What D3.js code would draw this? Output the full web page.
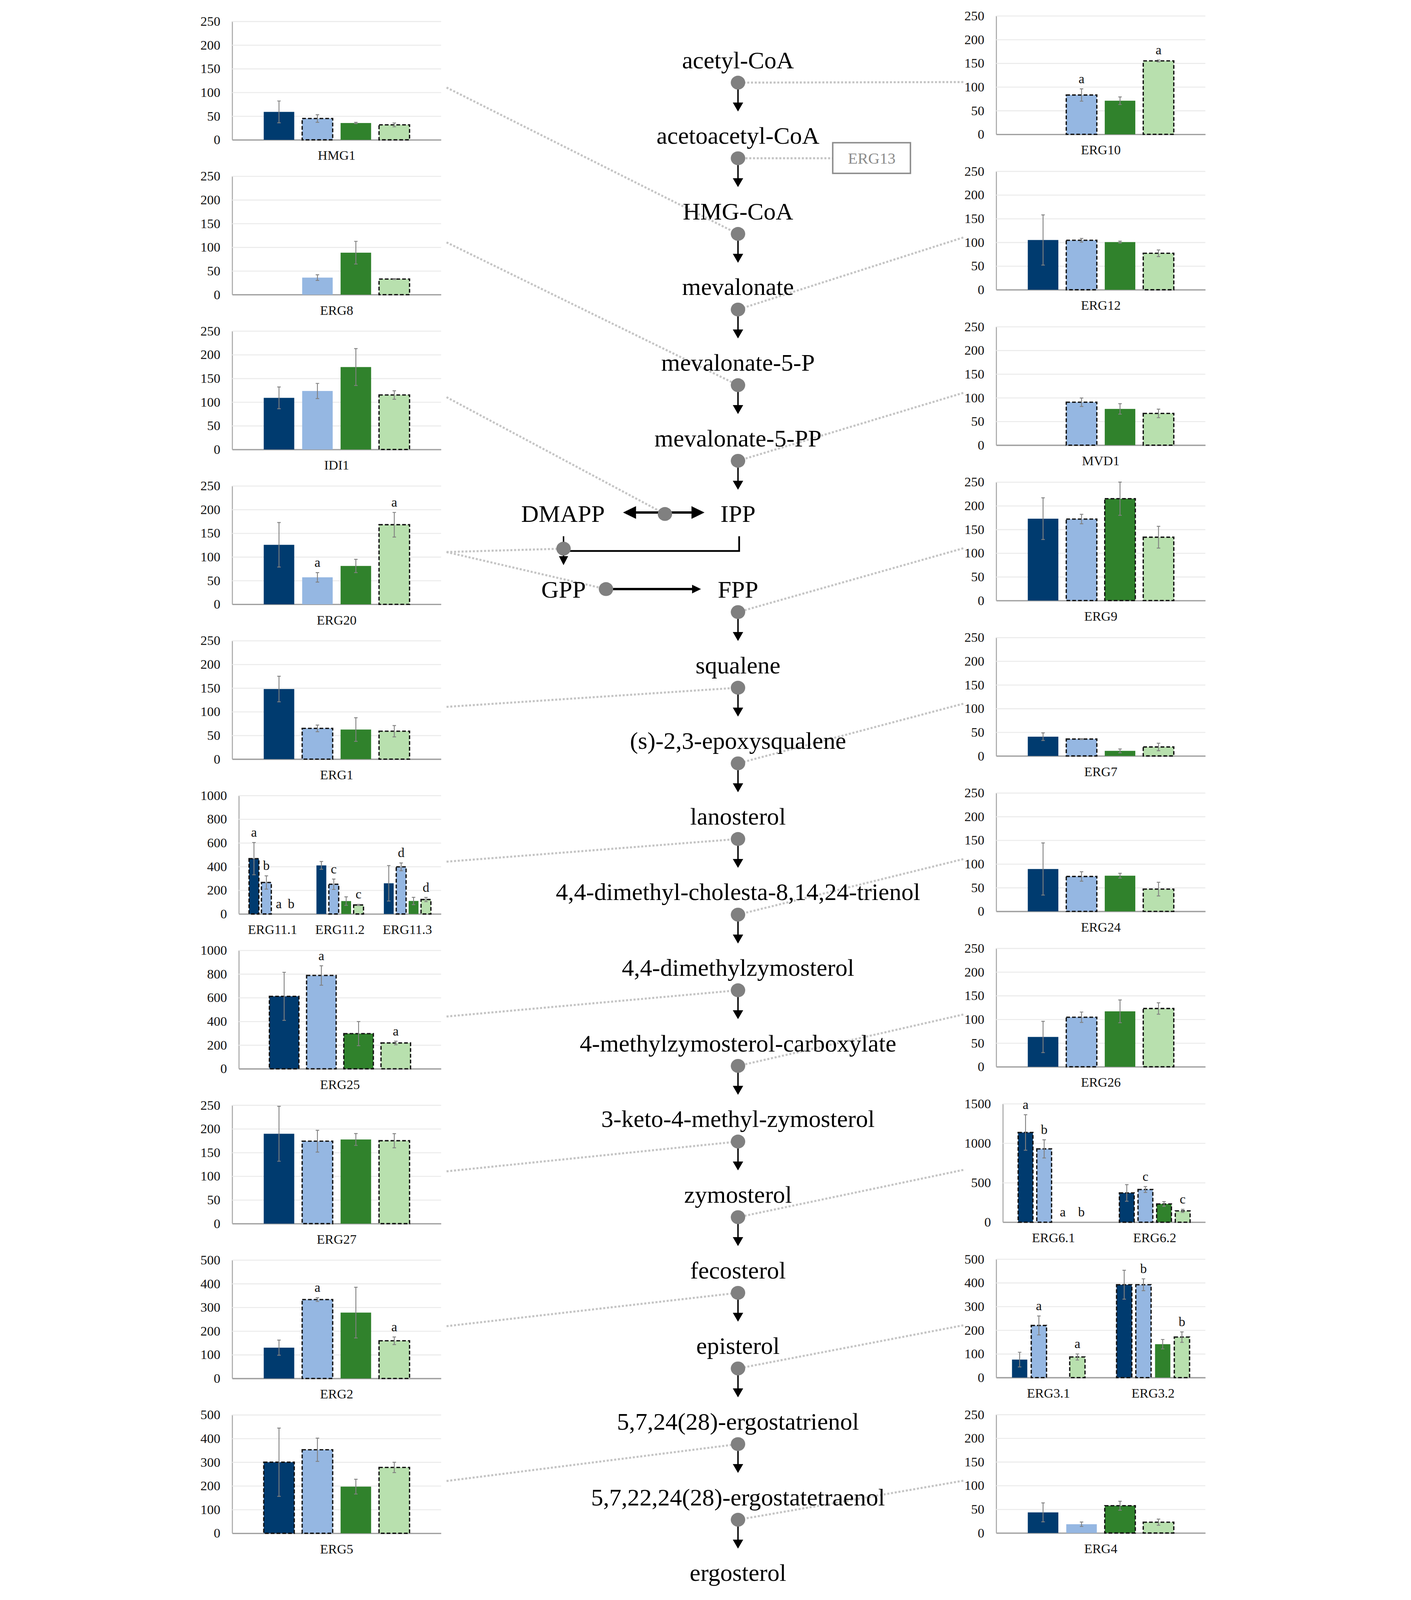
<!DOCTYPE html>
<html>
<head>
<meta charset="utf-8">
<script src="https://cdn.jsdelivr.net/npm/d3@7"></script>
<style>
  html, body { margin: 0; padding: 0; background: #fff; width: 100%; height: 100%; overflow: hidden; }
  #figure { width: 100vw; height: 100vh; }
  svg text { font-family: "Liberation Serif", "Times New Roman", serif; }
</style>
</head>
<body>
<div id="figure"></div>
<script>
// ---- pathway: metabolites on the central column (one per row) ----
const metabolites = ["acetyl-CoA", "acetoacetyl-CoA", "HMG-CoA", "mevalonate", "mevalonate-5-P",
  "mevalonate-5-PP", "IPP", "FPP", "squalene", "(s)-2,3-epoxysqualene", "lanosterol",
  "4,4-dimethyl-cholesta-8,14,24-trienol", "4,4-dimethylzymosterol", "4-methylzymosterol-carboxylate",
  "3-keto-4-methyl-zymosterol", "zymosterol", "fecosterol", "episterol",
  "5,7,24(28)-ergostatrienol", "5,7,22,24(28)-ergostatetraenol", "ergosterol"];
const sideMetabolites = ["DMAPP", "GPP"];   // rows 6 and 7, left of the main column

// ---- gene panels: 10 on the left, 10 on the right ----
const panelGenes = ["HMG1", "ERG8", "IDI1", "ERG20", "ERG1", "ERG11", "ERG25", "ERG27", "ERG2", "ERG5",
  "ERG10", "ERG12", "MVD1", "ERG9", "ERG7", "ERG24", "ERG26", "ERG6", "ERG3", "ERG4"];

const panelCategories = [["HMG1"], ["ERG8"], ["IDI1"], ["ERG20"], ["ERG1"], ["ERG11.1", "ERG11.2", "ERG11.3"],
  ["ERG25"], ["ERG27"], ["ERG2"], ["ERG5"], ["ERG10"], ["ERG12"], ["MVD1"], ["ERG9"], ["ERG7"], ["ERG24"],
  ["ERG26"], ["ERG6.1", "ERG6.2"], ["ERG3.1", "ERG3.2"], ["ERG4"]];

const panelMax = [250, 250, 250, 250, 250, 1000, 1000, 250, 500, 500, 250, 250, 250, 250, 250, 250, 250, 1500, 500, 250];
const panelTickStep = [50, 50, 50, 50, 50, 200, 200, 50, 100, 100, 50, 50, 50, 50, 50, 50, 50, 500, 100, 50];

// four series per category (null = not measured)
const panelMeans = [
  [[59, 45, 35.5, 31.6]],
  [[null, 36, 88.6, 33]],
  [[109, 123.5, 174, 115]],
  [[125.6, 57, 81, 168]],
  [[148, 65, 62.5, 59]],
  [[467, 266, 0, 0], [410, 251, 109, 76], [259, 398, 110, 122]],
  [[612, 788, 297, 218]],
  [[189.7, 174, 177.6, 175]],
  [[130, 333, 278, 159]],
  [[300, 352.6, 197, 278]],
  [[null, 83, 71, 155]],
  [[105, 104.4, 100.6, 77]],
  [[null, 90.6, 76.5, 67]],
  [[172.8, 172, 215, 133.7]],
  [[40.7, 35.7, 10.8, 19]],
  [[89.4, 73.7, 75.3, 47]],
  [[63, 104.6, 117, 123]],
  [[1136, 928, 0, 0], [371, 414, 231, 143]],
  [[76, 220, null, 87], [392, 392, 141, 171]],
  [[43.5, 18.5, 57.6, 22.8]]
];

const panelErrors = [
  [[23, 8, 1.5, 4]],
  [[0, 6, 24, 1]],
  [[23, 16, 39, 9]],
  [[47, 10, 14, 26]],
  [[27, 7, 25, 12]],
  [[136, 56, 0, 0], [33, 44, 36, 5], [150, 33, 31, 18]],
  [[203, 82, 102, 15]],
  [[58, 23, 12.5, 15]],
  [[32, 8, 107, 16]],
  [[144, 49, 31, 22]],
  [[0, 13, 8, 2]],
  [[53, 4, 2, 7]],
  [[0, 9, 11, 9]],
  [[44, 10, 35, 23]],
  [[8, 1, 4, 8]],
  [[55, 10, 5, 14.5]],
  [[33, 11, 24, 12]],
  [[225, 115, 0, 0], [105, 37, 30, 20]],
  [[31, 40, 0, 13], [61, 25, 20, 22]],
  [[20, 4.7, 9.5, 6.5]]
];

// 1 = bar drawn with dashed outline
const panelDashed = [
  [[0, 1, 0, 1]],
  [[0, 0, 0, 1]],
  [[0, 0, 0, 1]],
  [[0, 0, 0, 1]],
  [[0, 1, 0, 1]],
  [[1, 1, 0, 0], [0, 1, 0, 1], [0, 1, 0, 1]],
  [[1, 1, 1, 1]],
  [[0, 1, 0, 1]],
  [[0, 1, 0, 1]],
  [[1, 1, 0, 1]],
  [[0, 1, 0, 1]],
  [[0, 1, 0, 1]],
  [[0, 1, 0, 1]],
  [[0, 1, 1, 1]],
  [[0, 1, 0, 1]],
  [[0, 1, 0, 1]],
  [[0, 1, 0, 1]],
  [[1, 1, 0, 0], [1, 1, 1, 1]],
  [[0, 1, 0, 1], [1, 1, 0, 1]],
  [[0, 0, 1, 1]]
];

const panelLetters = [
  [["", "", "", ""]],
  [["", "", "", ""]],
  [["", "", "", ""]],
  [["", "a", "", "a"]],
  [["", "", "", ""]],
  [["a", "b", "a", "b"], ["", "c", "", "c"], ["", "d", "", "d"]],
  [["", "a", "", "a"]],
  [["", "", "", ""]],
  [["", "a", "", "a"]],
  [["", "", "", ""]],
  [["", "a", "", "a"]],
  [["", "", "", ""]],
  [["", "", "", ""]],
  [["", "", "", ""]],
  [["", "", "", ""]],
  [["", "", "", ""]],
  [["", "", "", ""]],
  [["a", "b", "a", "b"], ["", "c", "", "c"]],
  [["", "a", "", "a"], ["", "b", "", "b"]],
  [["", "", "", ""]]
];

// which pathway step each panel points to
const panelTargets = [["n2"], ["n4"], ["iso"], ["dmapp", "gpp"], ["n8"], ["n10"], ["n12"], ["n14"], ["n16"], ["n18"],
  ["n0"], ["n3"], ["n5"], ["n7"], ["n9"], ["n11"], ["n13"], ["n15"], ["n17"], ["n19"]];

const seriesFill = ["#003b6f", "#95b7e2", "#30822c", "#b8e0ae"];

// ---------------------------------------------------------------
const W = 3613, H = 5538;
const colX = 1919;
const rowY = i => 208 + 261.8 * i;

// drawn in a fixed 3613 x 5538 coordinate space, fitted to the window
const svg = d3.select("#figure").append("svg")
  .attr("viewBox", `0 0 ${W} ${H}`)
  .attr("preserveAspectRatio", "xMidYMin meet")
  .attr("width", "100%").attr("height", "100%")
  .style("display", "block");

const linkLayer = svg.append("g");
const pathLayer = svg.append("g");
const panelLayer = svg.append("g");

// node positions on the pathway
const nodes = {};
metabolites.forEach((m, i) => {
  if (i === 6 || i === metabolites.length - 1) return;
  nodes["n" + i] = [colX, rowY(i) + 78];
});
nodes.iso = [1666, 1779];
nodes.dmapp = [1315, 1899];
nodes.gpp = [1462, 2039];

function arrowHead(g, tipX, tipY, dir, len, half) {
  let pts;
  if (dir === "down") pts = [[tipX, tipY], [tipX - half, tipY - len], [tipX + half, tipY - len]];
  if (dir === "right") pts = [[tipX, tipY], [tipX - len, tipY - half], [tipX - len, tipY + half]];
  if (dir === "left") pts = [[tipX, tipY], [tipX + len, tipY - half], [tipX + len, tipY + half]];
  g.append("path").attr("d", d3.line()(pts) + "Z").attr("fill", "#000");
}

// ---- pathway drawing ----
metabolites.forEach((m, i) => {
  pathLayer.append("text")
    .attr("x", colX).attr("y", rowY(i) + 28)
    .attr("text-anchor", "middle")
    .attr("font-size", 84)
    .attr("fill", "#000")
    .text(m);
});
pathLayer.append("text").attr("x", 1313).attr("y", rowY(6) + 28)
  .attr("text-anchor", "middle").attr("font-size", 84).text(sideMetabolites[0]);
pathLayer.append("text").attr("x", 1315).attr("y", rowY(7) + 28)
  .attr("text-anchor", "middle").attr("font-size", 84).text(sideMetabolites[1]);

// straight downward steps
metabolites.forEach((m, i) => {
  if (i === 6 || i === metabolites.length - 1) return;
  const ny = rowY(i) + 78;
  const tip = rowY(i) + 178;
  pathLayer.append("line").attr("x1", colX).attr("x2", colX).attr("y1", ny).attr("y2", tip - 25)
    .attr("stroke", "#000").attr("stroke-width", 5);
  arrowHead(pathLayer, colX, tip, "down", 31, 18);
});

// DMAPP <-> IPP
pathLayer.append("line").attr("x1", 1560).attr("x2", 1765).attr("y1", 1774).attr("y2", 1774)
  .attr("stroke", "#000").attr("stroke-width", 8);
arrowHead(pathLayer, 1521, 1774, "left", 45, 22);
arrowHead(pathLayer, 1803, 1774, "right", 45, 22);

// IPP + DMAPP -> GPP
pathLayer.append("path")
  .attr("d", "M1923,1856 V1907 H1315")
  .attr("fill", "none").attr("stroke", "#000").attr("stroke-width", 6);
pathLayer.append("line").attr("x1", 1315).attr("x2", 1315).attr("y1", 1856).attr("y2", 1930)
  .attr("stroke", "#000").attr("stroke-width", 5);
arrowHead(pathLayer, 1315, 1956, "down", 31, 16);

// GPP -> FPP
pathLayer.append("line").attr("x1", 1462).attr("x2", 1765).attr("y1", 2039).attr("y2", 2039)
  .attr("stroke", "#000").attr("stroke-width", 8);
arrowHead(pathLayer, 1791, 2039, "right", 31, 15);

// ERG13 box
pathLayer.append("rect").attr("x", 2247).attr("y", 494).attr("width", 269).attr("height", 106)
  .attr("fill", "#fff").attr("stroke", "#8c8c8c").attr("stroke-width", 5);
pathLayer.append("text").attr("x", 2382).attr("y", 566).attr("text-anchor", "middle")
  .attr("font-size", 55).attr("fill", "#8c8c8c").text("ERG13");
linkLayer.append("line").attr("x1", nodes.n1[0]).attr("y1", nodes.n1[1]).attr("x2", 2247).attr("y2", nodes.n1[1])
  .attr("stroke", "#c4c4c4").attr("stroke-width", 7).attr("stroke-dasharray", "7,6");

// ---- panels ----
function drawPanel(p) {
  const left = p < 10;
  const k = left ? p : p - 10;
  const top = left ? 74 + 535.9 * k : 55 + 537.9 * k;
  const labelLeft = left ? 58 : 2703;
  const plotRight = left ? 891 : 3537;
  const digits = String(panelMax[p]).length;
  const plotLeft = labelLeft + digits * 23 + 41;
  const bottom = top + 410;

  const g = panelLayer.append("g").attr("class", "panel-" + panelGenes[p]);

  const y = d3.scaleLinear().domain([0, panelMax[p]]).range([bottom, top]);
  const x0 = d3.scaleBand().domain(panelCategories[p]).range([plotLeft, plotRight]);
  const x1 = d3.scaleBand().domain([0, 1, 2, 3]).range([0, x0.bandwidth()])
    .paddingInner(0.206).paddingOuter(0.82);

  // gridlines + y tick labels
  const yAxis = d3.axisLeft(y)
    .tickValues(d3.range(0, panelMax[p] + 1, panelTickStep[p]))
    .tickSizeInner(-(plotRight - plotLeft))
    .tickSizeOuter(0)
    .tickPadding(41)
    .tickFormat(d3.format("d"));
  const ya = g.append("g").attr("transform", `translate(${plotLeft},0)`).call(yAxis);
  ya.attr("font-family", null).attr("font-size", null);
  ya.select(".domain").attr("stroke", "#a6a6a6").attr("stroke-width", 3.5);
  ya.selectAll(".tick line").attr("stroke", "#ebebeb").attr("stroke-width", 3.5);
  ya.selectAll(".tick text").attr("font-size", 46).attr("fill", "#111");

  // category axis
  const xa = g.append("g").attr("transform", `translate(0,${bottom})`)
    .call(d3.axisBottom(x0).tickSize(0).tickPadding(37));
  xa.attr("font-family", null).attr("font-size", null);
  xa.select(".domain").attr("stroke", "#a0a0a0").attr("stroke-width", 4.5);
  xa.selectAll(".tick text").attr("font-size", 46).attr("fill", "#111");

  // flatten bars
  const bars = [];
  panelCategories[p].forEach((cat, c) => {
    panelMeans[p][c].forEach((v, s) => {
      if (v === null) return;
      bars.push({
        cat, s, v,
        e: panelErrors[p][c][s],
        dashed: panelDashed[p][c][s] === 1,
        letter: panelLetters[p][c][s]
      });
    });
  });
  const bx = d => x0(d.cat) + x1(d.s);
  const cx = d => bx(d) + x1.bandwidth() / 2;

  g.append("g").selectAll("rect")
    .data(bars.filter(d => d.v > 0))
    .join("rect")
    .attr("x", bx)
    .attr("y", d => y(d.v))
    .attr("width", x1.bandwidth())
    .attr("height", d => y(0) - y(d.v))
    .attr("fill", d => seriesFill[d.s])
    .attr("stroke", d => d.dashed ? "#111" : "none")
    .attr("stroke-width", 4.5)
    .attr("stroke-dasharray", d => d.dashed ? "13,7" : null);

  // error bars
  const eb = g.append("g").attr("stroke", "#808080").attr("stroke-width", 3).attr("fill", "none");
  eb.selectAll("path")
    .data(bars.filter(d => d.e > 0))
    .join("path")
    .attr("d", d => {
      const x = cx(d), y1 = y(d.v + d.e), y2 = y(Math.max(0, d.v - d.e));
      return `M${x},${y1}V${y2}M${x - 6},${y1}H${x + 6}M${x - 6},${y2}H${x + 6}`;
    });

  // significance letters
  g.append("g").selectAll("text")
    .data(bars.filter(d => d.letter))
    .join("text")
    .attr("x", cx)
    .attr("y", d => y(d.v + d.e) - 20)
    .attr("text-anchor", "middle")
    .attr("font-size", 46)
    .attr("fill", "#111")
    .text(d => d.letter);

  // dotted links to the pathway
  const ax = left ? 910 : 2699;
  const ay = top + 229;
  panelTargets[p].forEach(t => {
    linkLayer.append("line")
      .attr("x1", ax).attr("y1", ay)
      .attr("x2", nodes[t][0]).attr("y2", nodes[t][1])
      .attr("stroke", "#c4c4c4").attr("stroke-width", 7).attr("stroke-dasharray", "7,6");
  });
}

panelGenes.forEach((gene, p) => drawPanel(p));

// grey enzyme nodes on top of arrows and links
pathLayer.append("g").selectAll("ellipse")
  .data(Object.values(nodes))
  .join("ellipse")
  .attr("cx", d => d[0]).attr("cy", d => d[1])
  .attr("rx", 25).attr("ry", 24)
  .attr("fill", "#808080");
</script>
</body>
</html>
